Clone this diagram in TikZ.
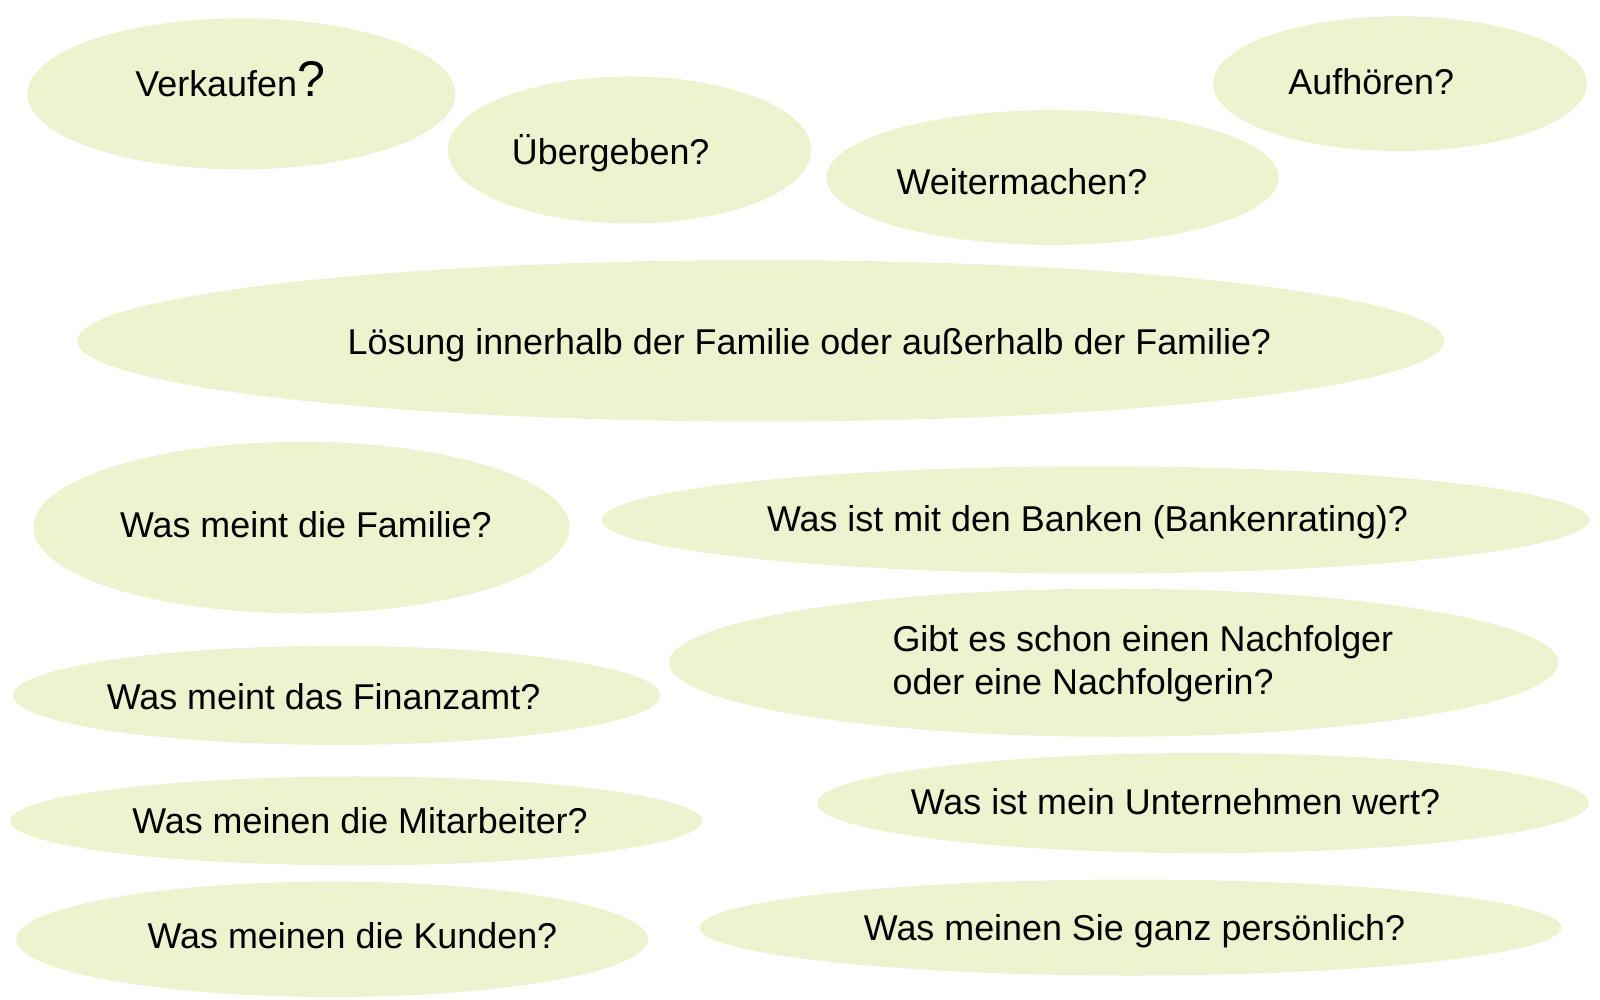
\documentclass[tikz,border=0pt]{standalone}
\usepackage{fontspec}
\setmainfont{Liberation Sans}
\usepackage{tikz}
\usetikzlibrary{shapes,positioning}
\definecolor{blobfill}{RGB}{235,244,207}

\begin{document}
\begin{tikzpicture}[x=0.01cm, y=-0.01cm,
        blob/.style={ellipse, fill=blobfill, draw=none, inner sep=0pt},
        frage/.style={anchor=base west, inner sep=0pt, font=\fontsize{10}{12}\selectfont, align=left}]
        \useasboundingbox (0,0) rectangle (1568,980);

        % Top row
        \node[blob, minimum width=41.9mm, minimum height=14.8mm] (verkaufen) at (236.5,92) {};
        \node[blob, minimum width=35.6mm, minimum height=14.4mm] (uebergeben) at (617,147) {};
        \node[blob, minimum width=44.3mm, minimum height=13.2mm] (weiter) at (1031.5,174) {};
        \node[blob, minimum width=36.6mm, minimum height=13.2mm] (aufhoeren) at (1372,82) {};

        \node[frage] (tverkaufen) at (132,95) {Verkaufen{\fontsize{14}{14}\selectfont ?}};
        \node[frage] (tuebergeben) at (501,161) {Übergeben?};
        \node[frage] (tweiter) at (878,191) {Weitermachen?};
        \node[frage] (taufhoeren) at (1262,93) {Aufhören?};

        % Main question
        \node[blob, minimum width=133.9mm, minimum height=15.8mm] (loesung) at (745.5,334) {};
        \node[frage] (tloesung) at (340,347) {Lösung innerhalb der Familie oder außerhalb der Familie?};

        % Left column
        \node[blob, minimum width=52.5mm, minimum height=16.8mm] (familie) at (295.5,517) {};
        \node[blob, minimum width=63.4mm, minimum height=9.7mm] (finanzamt) at (330,681.5) {};
        \node[blob, minimum width=67.8mm, minimum height=8.7mm] (mitarbeiter) at (349,804.5) {};
        \node[blob, minimum width=61.9mm, minimum height=11.3mm] (kunden) at (325.5,920.5) {};

        \node[frage] (tfamilie) at (117,527) {Was meint die Familie?};
        \node[frage] (tfinanzamt) at (104,695) {Was meint das Finanzamt?};
        \node[frage] (tmitarbeiter) at (129,817) {Was meinen die Mitarbeiter?};
        \node[frage] (tkunden) at (144,930) {Was meinen die Kunden?};

        % Right column
        \node[blob, minimum width=96.7mm, minimum height=10.5mm] (banken) at (1073.5,509.5) {};
        \node[blob, minimum width=87.1mm, minimum height=14.5mm] (nachfolger) at (1091.5,649.5) {};
        \node[blob, minimum width=75.6mm, minimum height=9.8mm] (wert) at (1179,787) {};
        \node[blob, minimum width=84.4mm, minimum height=9.4mm] (persoenlich) at (1108,909) {};

        \node[frage] (tbanken) at (751,521) {Was ist mit den Banken (Bankenrating)?};
        \node[frage, anchor=north west] (tnachfolger) at (874,612) {Gibt es schon einen Nachfolger\\oder eine Nachfolgerin?};
        \node[frage] (twert) at (892,798) {Was ist mein Unternehmen wert?};
        \node[frage] (tpersoenlich) at (846,922) {Was meinen Sie ganz persönlich?};
    \end{tikzpicture}
\end{document}
